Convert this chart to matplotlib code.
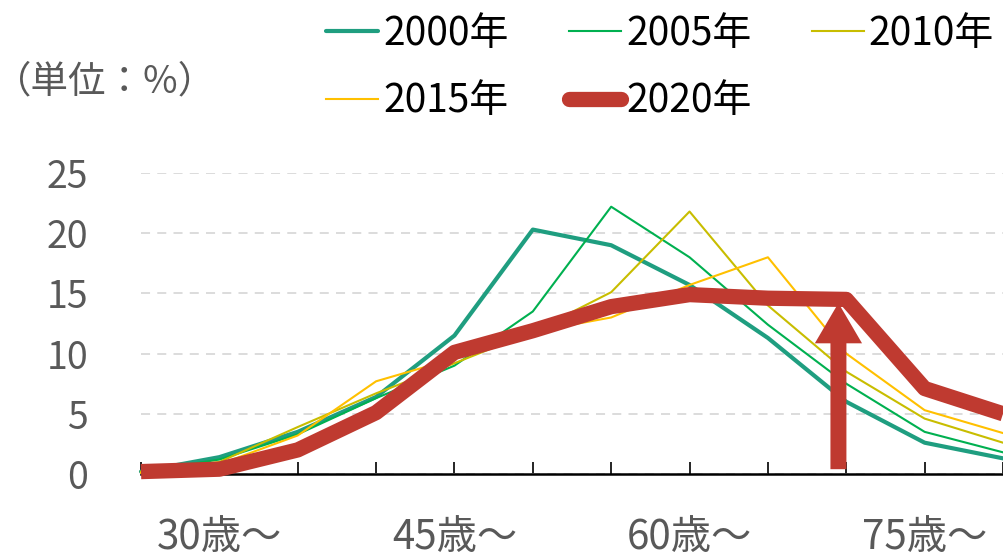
import matplotlib
matplotlib.use('Agg')
import matplotlib.pyplot as plt
from matplotlib.lines import Line2D
import numpy as np

plt.rcParams['font.family'] = ['Noto Sans CJK JP', 'DejaVu Sans']

# age classes (only every third one is labelled in the chart)
ages = ['25歳〜', '30歳〜', '35歳〜', '40歳〜', '45歳〜', '50歳〜',
        '55歳〜', '60歳〜', '65歳〜', '70歳〜', '75歳〜', '80歳〜']
shown_labels = ['30歳〜', '45歳〜', '60歳〜', '75歳〜']

y2000 = [0.2, 1.4, 3.5, 6.4, 11.5, 20.3, 19.0, 15.7, 11.3, 6.0, 2.6, 1.3]
y2005 = [0.2, 1.2, 3.3, 6.3, 9.0, 13.5, 22.2, 18.0, 12.4, 7.5, 3.5, 1.8]
y2010 = [0.2, 1.0, 3.9, 6.7, 9.2, 11.8, 15.1, 21.8, 14.0, 8.5, 4.6, 2.6]
y2015 = [0.1, 0.8, 3.2, 7.7, 9.6, 11.8, 13.0, 15.7, 18.0, 10.0, 5.3, 3.4]
y2020 = [0.2, 0.4, 2.0, 5.1, 10.1, 11.9, 13.9, 14.9, 14.6, 14.5, 7.1, 5.0]

# arrow marking the 70歳〜 level of 2020
arrow_x = 8.9
arrow_bottom = 0.4
arrow_top = 14.2

red = '#bf3a30'
gray = '#595959'

fig = plt.figure(figsize=(10.04, 5.54), dpi=100)
ax = fig.add_axes([141/1004, 80/554, 863/1004, 301/554])

x = np.arange(len(ages))
l00, = ax.plot(x, y2000, color='#1f9e80', lw=3.0, solid_capstyle='round', clip_on=False, zorder=3)
l05, = ax.plot(x, y2005, color='#00b050', lw=1.5, clip_on=False, zorder=3)
l10, = ax.plot(x, y2010, color='#c8bd00', lw=1.5, clip_on=False, zorder=3)
l15, = ax.plot(x, y2015, color='#ffc000', lw=1.5, clip_on=False, zorder=3)
l20, = ax.plot(x, y2020, color=red, lw=11, solid_capstyle='butt', clip_on=False, zorder=4)
# legend key for 2020 has rounded ends
h20 = Line2D([], [], color=red, lw=11, solid_capstyle='round')

ax.annotate('', xy=(arrow_x, arrow_top), xytext=(arrow_x, arrow_bottom),
            arrowprops=dict(arrowstyle='simple,head_width=34,head_length=29,tail_width=11.5',
                            mutation_scale=1, color=red, lw=0, shrinkA=0, shrinkB=0),
            zorder=5, annotation_clip=False)

ax.set_xlim(0, len(ages) - 1 + 1/78)
ax.set_ylim(0, 25)
ax.set_yticks([0, 5, 10, 15, 20, 25])
ax.set_xticks(x)
ax.set_xticklabels([a if a in shown_labels else '' for a in ages])

ax.tick_params(axis='y', length=0, pad=38, labelsize=27, labelcolor=gray)
ax.tick_params(axis='x', direction='in', length=9, width=1.2, pad=31,
               labelsize=29, labelcolor=gray)

for s in ['top', 'right', 'left']:
    ax.spines[s].set_visible(False)
ax.spines['bottom'].set_linewidth(1.8)
ax.spines['bottom'].set_zorder(2)

ax.yaxis.grid(True, color='#d9d9d9', lw=1.3, ls=(0, (5, 4)))
ax.set_axisbelow(True)

fig.text(-0.006, 1 - 82/554, '（単位：%）', fontsize=27, color=gray, va='center', ha='left')

fig.legend([l00, l15, l05, h20, l10], ['2000年', '2015年', '2005年', '2020年', '2010年'],
           ncol=3, loc='upper left', bbox_to_anchor=(326/1004, 1 - 14/554),
           frameon=False, fontsize=28, handlelength=1.35, handletextpad=0.12,
           columnspacing=1.55, labelspacing=0.7, borderpad=0, borderaxespad=0)

fig.savefig('out.png', dpi=100)
